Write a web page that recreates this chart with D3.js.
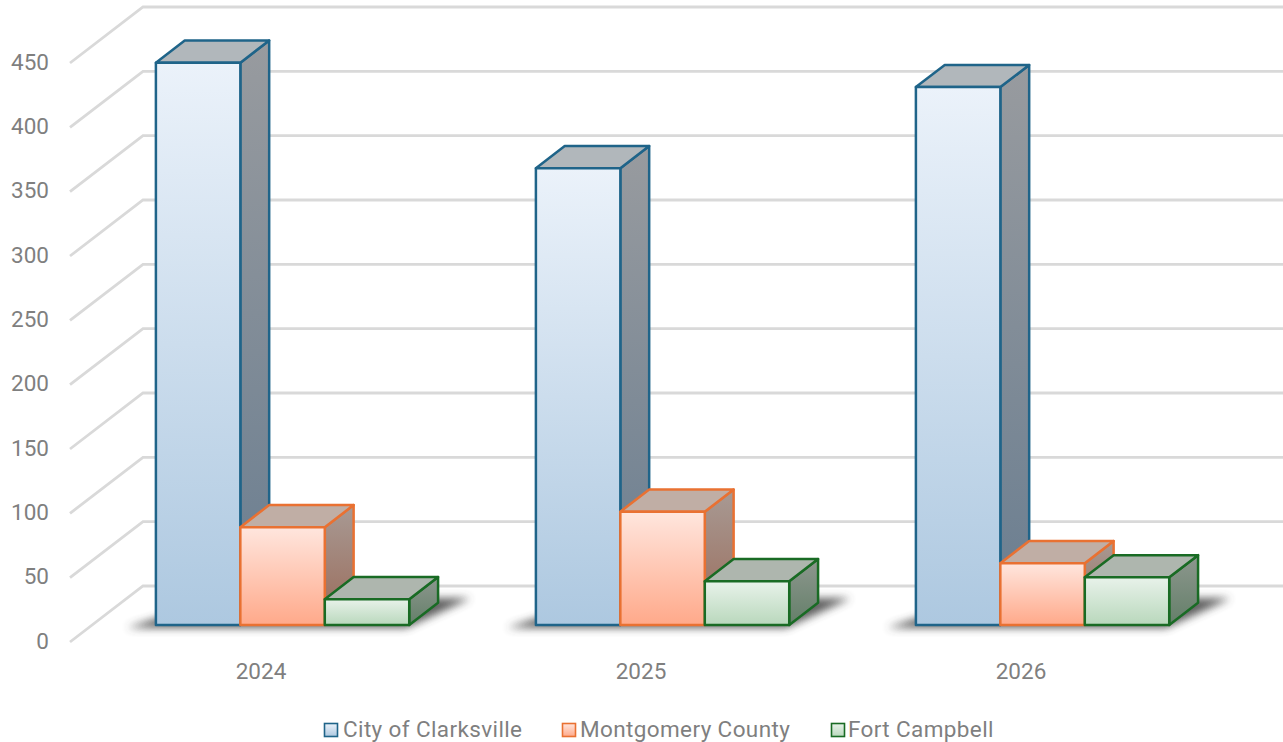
<!DOCTYPE html>
<html>
<head>
<meta charset="utf-8">
<style>
  html, body { margin: 0; padding: 0; background: #fff; overflow: hidden; }
  text { font-family: Roboto, "Noto Sans", sans-serif; fill: #7f7f7f; }
</style>
<script src="https://cdn.jsdelivr.net/npm/d3@7"></script>
</head>
<body>
<div id="chart"></div>
<script>
const years = ['2024', '2025', '2026'];
const seriesNames = ['City of Clarksville', 'Montgomery County', 'Fort Campbell'];
const clarksville = [437, 355, 418];
const montgomery = [76, 88, 48];
const campbell = [20, 34, 37];
const yTicks = [0, 50, 100, 150, 200, 250, 300, 350, 400, 450];

const seriesValues = [clarksville, montgomery, campbell];

const width = 1283;
const height = 742;

// front face colours: stroke, gradient top/bottom, then side and roof shades
const looks = [
    {stroke: '#1f6489', front: ['#ebf2fa', '#adc8e0'], side: ['#989b9f', '#697d90'], top: '#b1b7bb'},
    {stroke: '#e97132', front: ['#ffe6de', '#ffa98a'], side: ['#a89a94', '#9a6a58'], top: '#c0aea5'},
    {stroke: '#196b24', front: ['#e8f2ea', '#b9d8bc'], side: ['#8d978e', '#647f69'], top: '#aeb6ae'}
];

const svg = d3.select('#chart').append('svg')
    .attr('width', width)
    .attr('height', height);

const defs = svg.append('defs');

looks.forEach(function(look, i) {
    ['front', 'side'].forEach(function(face) {
        const grad = defs.append('linearGradient')
            .attr('id', face + i)
            .attr('x1', 0).attr('y1', 0).attr('x2', 0).attr('y2', 1);
        grad.append('stop').attr('offset', '0%').attr('stop-color', look[face][0]);
        grad.append('stop').attr('offset', '100%').attr('stop-color', look[face][1]);
    });
});

defs.append('filter').attr('id', 'blur')
    .attr('x', '-20%').attr('y', '-50%').attr('width', '140%').attr('height', '200%')
    .append('feGaussianBlur').attr('stdDeviation', 4.5);

// scales work on the front edge of the floor, project() pushes them back
let xScale = d3.scaleBand()
    .domain(years)
    .range([71, 1211])
    .paddingInner(1 / 3)
    .paddingOuter(1 / 6);

let innerScale = d3.scaleBand()
    .domain(seriesNames)
    .range([0, xScale.bandwidth()]);

let yScale = d3.scaleLinear()
    .domain([0, 450])
    .range([642, 63]);

const wallX = 73;
const wallY = 56;

function project(x, value, depth) {
    return [x + depth * wallX, yScale(value) - depth * wallY];
}

function poly(points) {
    return points.map(function(p) { return p.join(','); }).join(' ');
}

// walls
const grid = svg.append('g').attr('class', 'grid');

grid.selectAll('polyline')
    .data(yTicks)
    .enter().append('polyline')
    .attr('points', function(d) {
        return poly([[70, yScale(d)], project(70, d, 1), [width, yScale(d) - wallY]]);
    })
    .attr('fill', 'none')
    .attr('stroke', '#d9d9d9')
    .attr('stroke-width', 2.8);

let yAxis = d3.axisLeft().scale(yScale).tickValues(yTicks).tickSize(0).tickPadding(0);

svg.append('g')
    .attr('class', 'axis y-axis')
    .attr('transform', 'translate(49,-1)')
    .call(yAxis)
    .call(function(g) { g.select('.domain').remove(); })
    .selectAll('text')
    .attr('font-size', 22.5);

let xAxis = d3.axisBottom().scale(xScale).tickSize(0).tickPadding(0);

svg.append('g')
    .attr('class', 'axis x-axis')
    .attr('transform', 'translate(0,663)')
    .call(xAxis)
    .call(function(g) { g.select('.domain').remove(); })
    .selectAll('text')
    .attr('font-size', 22.5);

// bars
const depthFront = 0.305;
const depthBack = 0.7;
const barShift = -0.7;

const groups = svg.selectAll('.year')
    .data(years)
    .enter().append('g')
    .attr('class', 'year');

groups.append('polygon')
    .attr('class', 'shadow')
    .attr('points', function(year, i) {
        const x0 = xScale(year);
        const x1 = x0 + xScale.bandwidth();
        return poly([
            project(x0 - 26, 0, depthFront - 0.05),
            project(x1, 0, depthFront - 0.05),
            project(x1 + 26, 0, depthBack + 0.08),
            project(x0 + 30, 0, depthBack + 0.08)
        ]);
    })
    .attr('fill', '#404040')
    .attr('opacity', 0.85)
    .attr('filter', 'url(#blur)');

groups.each(function(year, i) {
    const group = d3.select(this);

    seriesNames.forEach(function(name, s) {
        const value = seriesValues[s][i];
        const left = xScale(year) + innerScale(name) + barShift;
        const right = left + innerScale.bandwidth();

        const bar = group.append('g')
            .attr('class', 'bar')
            .attr('stroke', looks[s].stroke)
            .attr('stroke-width', 2.5)
            .attr('stroke-linejoin', 'round');

        // side
        bar.append('polygon')
            .attr('points', poly([
                project(right, value, depthFront),
                project(right, value, depthBack),
                project(right, 0, depthBack),
                project(right, 0, depthFront)
            ]))
            .attr('fill', 'url(#side' + s + ')');

        // roof
        bar.append('polygon')
            .attr('points', poly([
                project(left, value, depthFront),
                project(left, value, depthBack),
                project(right, value, depthBack),
                project(right, value, depthFront)
            ]))
            .attr('fill', looks[s].top);

        // front
        bar.append('polygon')
            .attr('points', poly([
                project(left, value, depthFront),
                project(right, value, depthFront),
                project(right, 0, depthFront),
                project(left, 0, depthFront)
            ]))
            .attr('fill', 'url(#front' + s + ')');
    });
});

// legend
const legendStart = [324, 562, 831];

const legend = svg.selectAll('.legend')
    .data(seriesNames)
    .enter().append('g')
    .attr('class', 'legend')
    .attr('transform', function(d, i) { return 'translate(' + legendStart[i] + ',730)'; });

legend.append('rect')
    .attr('x', 0.5).attr('y', -6.5)
    .attr('width', 13).attr('height', 13)
    .attr('fill', function(d, i) { return 'url(#front' + i + ')'; })
    .attr('stroke', function(d, i) { return looks[i].stroke; })
    .attr('stroke-width', 1.6);

legend.append('text')
    .attr('x', function(d, i) { return i === 0 ? 19 : (i === 1 ? 18 : 17); })
    .attr('y', -1)
    .attr('dy', '0.35em')
    .attr('font-size', 22.5)
    .attr('letter-spacing', 0.38)
    .text(function(d) { return d; });
</script>
</body>
</html>
